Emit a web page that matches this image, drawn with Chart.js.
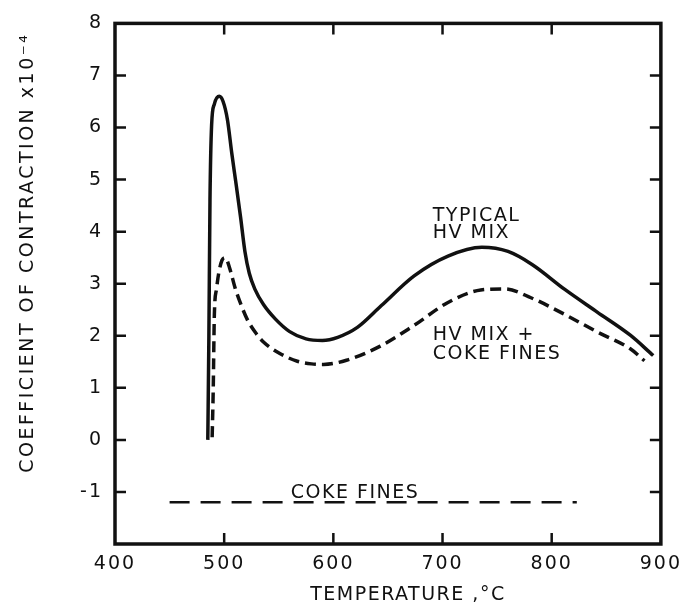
<!DOCTYPE html>
<html>
<head>
<meta charset="utf-8">
<script src="https://cdn.jsdelivr.net/npm/chart.js@4.4.1/dist/chart.umd.min.js"></script>
<style>
  html, body { margin: 0; padding: 0; background: #fff; }
  #wrap { width: 688px; height: 608px; }
</style>
</head>
<body>
<div id="wrap"><canvas id="chart"></canvas></div>
<script>
// typical HV mix (solid curve)
const hvMixTemp = [485, 486, 487, 488.5, 491, 495.5, 499, 503, 507, 511, 515, 519, 523, 528, 536, 547, 560, 575, 590, 604, 622, 644, 674, 705, 736, 760, 782, 812, 842, 872, 893];
const hvMixCoef = [0, 2.0, 4.6, 6.05, 6.45, 6.6, 6.5, 6.15, 5.5, 4.9, 4.28, 3.62, 3.2, 2.9, 2.6, 2.32, 2.08, 1.94, 1.91, 1.97, 2.16, 2.58, 3.15, 3.53, 3.7, 3.62, 3.37, 2.89, 2.45, 2.01, 1.62];

// HV mix + coke fines (dashed curve)
const hvCokeTemp = [489, 490, 491, 493, 495, 498, 501, 505, 510, 515, 521, 528, 536, 551, 567, 580, 591, 612, 643, 674, 705, 735, 757, 781, 811, 842, 872, 885];
const hvCokeCoef = [0.05, 1.0, 2.4, 2.9, 3.2, 3.45, 3.5, 3.3, 2.92, 2.62, 2.32, 2.08, 1.88, 1.66, 1.51, 1.46, 1.45, 1.53, 1.8, 2.2, 2.64, 2.88, 2.9, 2.73, 2.42, 2.07, 1.75, 1.52];

// coke fines alone (flat long-dash line)
const cokeTemp = [450, 823];
const cokeCoef = [-1.2, -1.2];

const tempTicks = [400, 500, 600, 700, 800, 900];
const coefTicks = [-2, -1, 0, 1, 2, 3, 4, 5, 6, 7, 8];

// curve labels, placed in data units
const noteText = ['TYPICAL', 'HV MIX', 'HV MIX +', 'COKE FINES', 'COKE FINES'];
const noteTemp = [691, 691, 691, 691, 561];
const noteCoef = [4.2, 3.87, 1.92, 1.56, -1.12];

const ink = '#111';
const font = 'DejaVu Sans';

const toPoints = (xs, ys) => xs.map((t, i) => ({ x: t, y: ys[i] }));

// frame, inward tick marks and hand lettering
const frameAndLabels = {
  id: 'frameAndLabels',
  beforeDraw(chart) {
    chart.ctx.letterSpacing = '2px';
  },
  afterDraw(chart) {
    const { ctx, chartArea: a, scales: { x, y } } = chart;
    ctx.save();
    ctx.strokeStyle = ink;
    ctx.lineWidth = 3.5;
    ctx.strokeRect(a.left, a.top, a.right - a.left, a.bottom - a.top);

    ctx.lineWidth = 2.5;
    ctx.beginPath();
    tempTicks.forEach(t => {
      if (t <= x.min || t >= x.max) return;
      const px = x.getPixelForValue(t);
      ctx.moveTo(px, a.bottom); ctx.lineTo(px, a.bottom - 11);
      ctx.moveTo(px, a.top); ctx.lineTo(px, a.top + 11);
    });
    coefTicks.forEach(v => {
      if (v <= y.min || v >= y.max) return;
      const py = y.getPixelForValue(v);
      ctx.moveTo(a.left, py); ctx.lineTo(a.left + 11, py);
      ctx.moveTo(a.right, py); ctx.lineTo(a.right - 11, py);
    });
    ctx.stroke();

    ctx.fillStyle = ink;
    ctx.letterSpacing = '1.5px';
    ctx.font = '19px "' + font + '"';
    ctx.textAlign = 'left';
    ctx.textBaseline = 'alphabetic';
    noteText.forEach((s, i) => {
      ctx.fillText(s, x.getPixelForValue(noteTemp[i]), y.getPixelForValue(noteCoef[i]));
    });

    // axis titles
    ctx.textAlign = 'center';
    ctx.fillText('TEMPERATURE ,°C', (a.left + a.right) / 2 + 20, a.bottom + 56);

    ctx.letterSpacing = '2.5px';
    ctx.translate(28, (a.top + a.bottom) / 2 - 31);
    ctx.rotate(-Math.PI / 2);
    ctx.textBaseline = 'middle';
    ctx.fillText('COEFFICIENT OF CONTRACTION x10⁻⁴', 0, 0);
    ctx.restore();
    ctx.letterSpacing = '0px';
  }
};

new Chart(document.getElementById('chart'), {
  type: 'line',
  data: {
    datasets: [
      {
        label: 'Typical HV mix',
        data: toPoints(hvMixTemp, hvMixCoef),
        borderColor: ink,
        borderWidth: 3.5,
        cubicInterpolationMode: 'monotone',
        pointRadius: 0,
      },
      {
        label: 'HV mix + coke fines',
        data: toPoints(hvCokeTemp, hvCokeCoef),
        borderColor: ink,
        borderWidth: 3.5,
        borderDash: [11, 6],
        cubicInterpolationMode: 'monotone',
        pointRadius: 0,
      },
      {
        label: 'Coke fines',
        data: toPoints(cokeTemp, cokeCoef),
        borderColor: ink,
        borderWidth: 2.5,
        borderDash: [20, 11],
        pointRadius: 0,
      },
    ],
  },
  options: {
    responsive: true,
    maintainAspectRatio: false,
    animation: false,
    devicePixelRatio: 1,
    layout: { padding: { top: 18, right: 25, left: 0, bottom: 0 } },
    plugins: { legend: { display: false }, tooltip: { enabled: false } },
    scales: {
      x: {
        type: 'linear',
        min: 400,
        max: 900,
        afterFit: s => { s.height = 64; },
        afterBuildTicks: s => { s.ticks = tempTicks.map(v => ({ value: v })); },
        grid: { display: false, drawTicks: false },
        border: { display: false },
        ticks: { color: ink, font: { family: font, size: 19 }, padding: 9 },
      },
      y: {
        min: -2,
        max: 8,
        afterFit: s => { s.width = 115; },
        afterBuildTicks: s => { s.ticks = coefTicks.map(v => ({ value: v })); },
        grid: { display: false, drawTicks: false },
        border: { display: false },
        ticks: {
          color: ink,
          font: { family: font, size: 19 },
          padding: 12,
          callback: v => (v === -2 ? '' : v),
        },
      },
    },
  },
  plugins: [frameAndLabels],
});
</script>
</body>
</html>
